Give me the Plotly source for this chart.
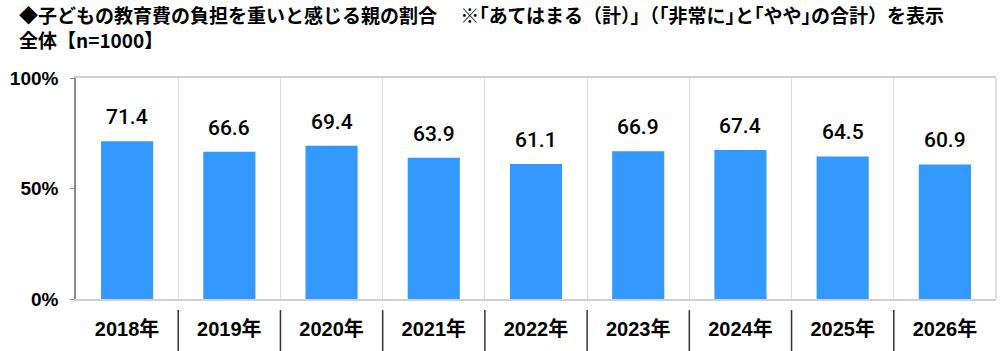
import plotly.graph_objects as go

years = ["2018年", "2019年", "2020年", "2021年", "2022年", "2023年", "2024年", "2025年", "2026年"]
values = [71.4, 66.6, 69.4, 63.9, 61.1, 66.9, 67.4, 64.5, 60.9]
y_ticks = [0, 50, 100]
y_tick_labels = ["0%", "50%", "100%"]
title_line1 = "◆子どもの教育費の負担を重いと感じる親の割合　 ※｢あてはまる（計）｣（｢非常に｣と｢やや｣の合計）を表示"
title_line2 = "全体【n=1000】"

FONT = "Liberation Sans, Arial, 'Noto Sans CJK JP', sans-serif"
LABEL_FONT = "Roboto, Liberation Sans, Arial, sans-serif"
BAR = "#3399FF"

fig = go.Figure()
fig.add_trace(go.Bar(
    x=years, y=values, marker=dict(color=BAR, line=dict(width=0)),
    width=0.51, hoverinfo="skip", showlegend=False,
))

annotations = []
for yr, v in zip(years, values):
    annotations.append(dict(
        x=yr, y=v, xref="x", yref="y", text=f"{v:.1f}", showarrow=False,
        yanchor="bottom", yshift=10,
        font=dict(family=LABEL_FONT, size=21, color="#000000", weight=500),
    ))

annotations.append(dict(
    xref="paper", yref="paper", x=-0.064, y=1.0, xanchor="left", yanchor="bottom",
    yshift=48, text="<b>" + title_line1 + "</b>", showarrow=False,
    font=dict(family="'Noto Sans CJK JP', sans-serif", size=19, color="#000000"),
))
annotations.append(dict(
    xref="paper", yref="paper", x=-0.064, y=1.0, xanchor="left", yanchor="bottom",
    yshift=23, text="<b>" + title_line2 + "</b>", showarrow=False,
    font=dict(family="'Noto Sans CJK JP', sans-serif", size=19, color="#000000"),
))

shapes = []
n = len(years)
for i in range(n - 1):
    shapes.append(dict(
        type="line", xref="x", yref="paper", x0=i + 0.5, x1=i + 0.5,
        y0=-0.05, y1=-0.24, line=dict(color="#333333", width=1.5),
    ))
# right border of plot box
shapes.append(dict(type="line", xref="paper", yref="paper", x0=1, x1=1, y0=0, y1=1,
                   line=dict(color="#d4d4d4", width=1.5)))

fig.update_layout(
    width=1000, height=351,
    margin=dict(l=76, r=4, t=78, b=52),
    paper_bgcolor="white", plot_bgcolor="white",
    bargap=0.49,
    annotations=annotations,
    shapes=shapes,
    xaxis=dict(
        type="category", tickson="boundaries", showgrid=True, gridcolor="#dedede", gridwidth=1,
        showline=True, mirror=True, linecolor="#d0d0d0", linewidth=1.5,
        ticks="", ticklabelstandoff=11,
        tickfont=dict(family=FONT, size=20, color="#000000", weight="bold"),
        range=[-0.5, n - 0.5], fixedrange=True,
    ),
    yaxis=dict(
        range=[0, 100], tickvals=y_ticks, ticktext=y_tick_labels,
        showgrid=False, zeroline=False,
        showline=True, linecolor="#8a8a8a", linewidth=1.5,
        ticks="outside", ticklen=4, tickcolor="#8a8a8a", ticklabelstandoff=8,
        tickfont=dict(family=FONT, size=19, color="#000000", weight="bold"),
        fixedrange=True,
    ),
)

fig.write_html("out.html")
